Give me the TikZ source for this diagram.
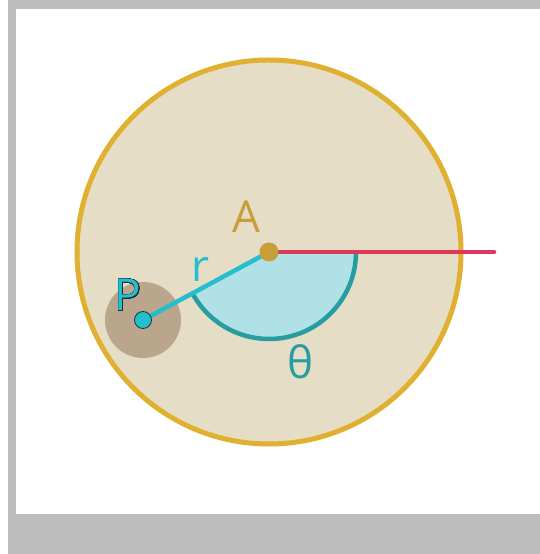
\documentclass[tikz,border=0pt]{standalone}
\usepackage{fontspec}
\setmainfont{Open Sans}
\usepackage{xcolor}
\usepackage{contour}
\usepackage{tikz}
\usetikzlibrary{calc,positioning}
\definecolor{frame}{RGB}{189,189,189}
\definecolor{disc}{RGB}{230,221,199}
\definecolor{rim}{RGB}{224,176,48}
\definecolor{ray}{RGB}{222,56,90}
\definecolor{link}{RGB}{37,190,206}
\definecolor{wedge}{RGB}{176,225,230}
\definecolor{angle}{RGB}{38,158,160}
\definecolor{hub}{RGB}{201,158,58}
\definecolor{halo}{RGB}{185,166,141}
\definecolor{edge}{RGB}{25,50,55}
\contourlength{0.6pt}
\contournumber{32}

\begin{document}
\begin{tikzpicture}[x=1pt, y=1pt,
    lbl/.style={anchor=base, inner sep=0pt, font=\fontsize{44}{44}\selectfont},
    dot/.style={circle, inner sep=0pt, minimum size=#1}]
    \useasboundingbox (0,0) rectangle (540,554);
    % frame
    \fill[frame] (8,0) rectangle (540,554);
    \fill[white] (16,40) rectangle (540,545);

    % big disc and its hub
    \coordinate (A) at (269,302);
    \coordinate (rayend) at (494,302);
    \coordinate (P) at (143,234);
    \fill[disc] (A) circle[radius=192];
    \draw[rim, line width=5pt] (A) circle[radius=192];

    % angle wedge
    \fill[wedge] (A) -- ($(A)+(0:87)$) arc[start angle=0, end angle=-151.8, radius=87] -- cycle;
    \draw[angle, line width=4.5pt] ($(A)+(0:87)$) arc[start angle=0, end angle=-151.8, radius=87];

    % point P
    \fill[halo] (P) circle[radius=38];
    \draw[ray, line width=4.5pt, line cap=round] (A) -- (rayend);
    \draw[link, line width=4.5pt] (A) -- (P);
    \node[dot=19pt, fill=hub] (hub) at (A) {};
    \node[dot=17pt, fill=link, draw=edge, line width=0.8pt] (pdot) at (P) {};

    % labels
    \node[lbl, text=hub] (alabel) at (246,321) {A};
    \node[lbl, text=link] (rlabel) at (200,272) {r};
    \node[lbl] (plabel) at (128,243) {\color{link}\contour{edge}{P}};
    \node[lbl, text=angle] (tlabel) at (301,175) {θ};
\end{tikzpicture}
\end{document}
